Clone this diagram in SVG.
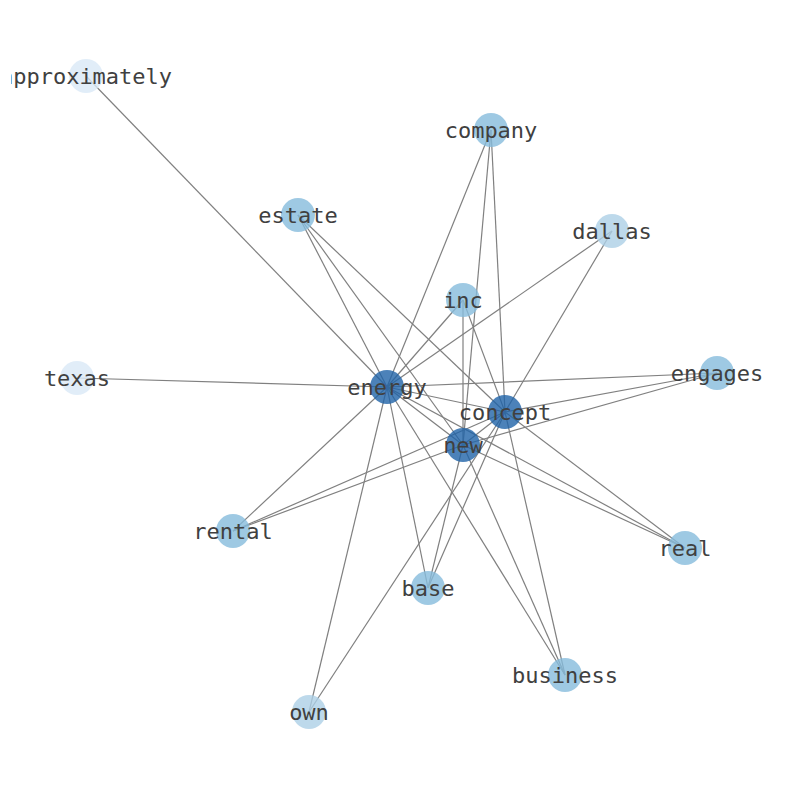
<svg xmlns="http://www.w3.org/2000/svg" width="794" height="790" viewBox="0 0 794 790">
<style>
.e{stroke:#808080;stroke-width:1.2;fill:none}
.n{stroke:none;opacity:0.8}
.d{fill:#1f63a8}
.m{fill:#86bcdc}
.l{fill:#acd0e6}
.v{fill:#dae8f6}
text{font-family:"DejaVu Sans Mono",monospace;font-size:22px;fill:#404040;text-anchor:middle;dominant-baseline:central}
</style>
<defs><clipPath id="c"><rect x="11" y="0" width="783" height="790"/></clipPath></defs>
<rect width="794" height="790" fill="#ffffff"/>
<g id="edges">
<line class="e" x1="86" y1="76" x2="387" y2="387"/>
<line class="e" x1="491" y1="130" x2="387" y2="387"/>
<line class="e" x1="491" y1="130" x2="463" y2="445"/>
<line class="e" x1="491" y1="130" x2="505" y2="412"/>
<line class="e" x1="612" y1="231" x2="387" y2="387"/>
<line class="e" x1="612" y1="231" x2="505" y2="412"/>
<line class="e" x1="298" y1="215" x2="387" y2="387"/>
<line class="e" x1="298" y1="215" x2="463" y2="445"/>
<line class="e" x1="298" y1="215" x2="505" y2="412"/>
<line class="e" x1="463" y1="300" x2="387" y2="387"/>
<line class="e" x1="463" y1="300" x2="463" y2="445"/>
<line class="e" x1="463" y1="300" x2="505" y2="412"/>
<line class="e" x1="77" y1="378" x2="387" y2="387"/>
<line class="e" x1="717" y1="373" x2="387" y2="387"/>
<line class="e" x1="717" y1="373" x2="505" y2="412"/>
<line class="e" x1="717" y1="373" x2="463" y2="445"/>
<line class="e" x1="387" y1="387" x2="505" y2="412"/>
<line class="e" x1="387" y1="387" x2="463" y2="445"/>
<line class="e" x1="505" y1="412" x2="463" y2="445"/>
<line class="e" x1="233" y1="531" x2="387" y2="387"/>
<line class="e" x1="233" y1="531" x2="463" y2="445"/>
<line class="e" x1="233" y1="531" x2="505" y2="412"/>
<line class="e" x1="685" y1="548" x2="387" y2="387"/>
<line class="e" x1="685" y1="548" x2="463" y2="445"/>
<line class="e" x1="685" y1="548" x2="505" y2="412"/>
<line class="e" x1="428" y1="588" x2="387" y2="387"/>
<line class="e" x1="428" y1="588" x2="463" y2="445"/>
<line class="e" x1="428" y1="588" x2="505" y2="412"/>
<line class="e" x1="565" y1="675" x2="387" y2="387"/>
<line class="e" x1="565" y1="675" x2="463" y2="445"/>
<line class="e" x1="565" y1="675" x2="505" y2="412"/>
<line class="e" x1="309" y1="712" x2="387" y2="387"/>
<line class="e" x1="309" y1="712" x2="505" y2="412"/>
</g>
<g id="node-approximately"><circle class="n v" cx="86" cy="76" r="17"/><text x="86" y="76" clip-path="url(#c)">approximately</text></g>
<g id="node-company"><circle class="n m" cx="491" cy="130" r="17"/><text x="491" y="130">company</text></g>
<g id="node-estate"><circle class="n m" cx="298" cy="215" r="17"/><text x="298" y="215">estate</text></g>
<g id="node-dallas"><circle class="n l" cx="612" cy="231" r="17"/><text x="612" y="231">dallas</text></g>
<g id="node-inc"><circle class="n m" cx="463" cy="300" r="17"/><text x="463" y="300">inc</text></g>
<g id="node-texas"><circle class="n v" cx="77" cy="378" r="17"/><text x="77" y="378">texas</text></g>
<g id="node-engages"><circle class="n m" cx="717" cy="373" r="17"/><text x="717" y="373">engages</text></g>
<g id="node-energy"><circle class="n d" cx="387" cy="387" r="17"/><text x="387" y="387">energy</text></g>
<g id="node-concept"><circle class="n d" cx="505" cy="412" r="17"/><text x="505" y="412">concept</text></g>
<g id="node-new"><circle class="n d" cx="463" cy="445" r="17"/><text x="463" y="445">new</text></g>
<g id="node-rental"><circle class="n m" cx="233" cy="531" r="17"/><text x="233" y="531">rental</text></g>
<g id="node-real"><circle class="n m" cx="685" cy="548" r="17"/><text x="685" y="548">real</text></g>
<g id="node-base"><circle class="n m" cx="428" cy="588" r="17"/><text x="428" y="588">base</text></g>
<g id="node-business"><circle class="n m" cx="565" cy="675" r="17"/><text x="565" y="675">business</text></g>
<g id="node-own"><circle class="n l" cx="309" cy="712" r="17"/><text x="309" y="712">own</text></g>
</svg>
